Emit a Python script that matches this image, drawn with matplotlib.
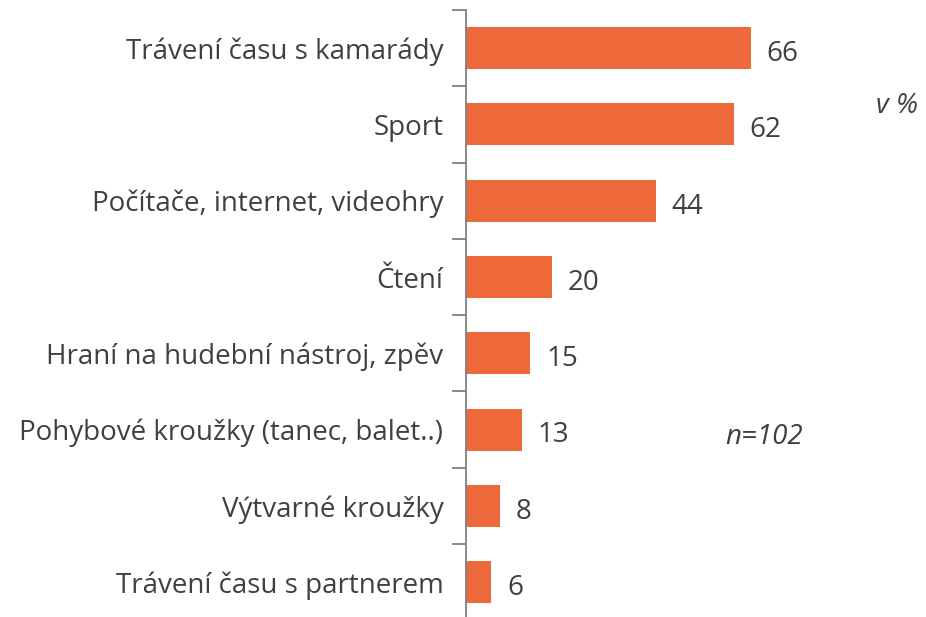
import matplotlib.pyplot as plt
import numpy as np

plt.rcParams['font.family'] = ['Open Sans', 'DejaVu Sans']

# data
kategorie = ['Trávení času s kamarády', 'Sport', 'Počítače, internet, videohry',
             'Čtení', 'Hraní na hudební nástroj, zpěv',
             'Pohybové kroužky (tanec, balet..)', 'Výtvarné kroužky',
             'Trávení času s partnerem']
hodnoty = [66, 62, 44, 20, 15, 13, 8, 6]

barva = '#EE6A3A'
text_barva = '#404040'
osa_barva = '#808080'

W, H = 926, 617
fig = plt.figure(figsize=(W / 100, H / 100), dpi=100)
# osa zacina na x=465.5 px, kategorie po 76.3 px od y=10 px
top_px, krok = 10, 76.3
bottom_px = top_px + krok * len(kategorie)
ax = fig.add_axes([465.5 / W, (H - bottom_px) / H, (W - 465.5) / W, (bottom_px - top_px) / H])

y = np.arange(len(kategorie))
ax.barh(y, hodnoty, height=0.55, color=barva)
ax.set_ylim(len(kategorie) - 0.5, -0.5)
ax.set_xlim(0, (W - 465.5) / 4.33)

for yi, v in zip(y, hodnoty):
    ax.text(v + 3.6, yi + 0.03, str(v), va='center_baseline', ha='left', fontsize=20,
            color=text_barva)

ax.set_yticks(y)
ax.set_yticklabels(kategorie, fontsize=20, color=text_barva)
for lab in ax.get_yticklabels():
    lab.set_verticalalignment('center_baseline')
ax.tick_params(axis='y', which='major', length=0, pad=16)
ax.set_yticks(np.arange(-0.5, len(kategorie) - 1, 1), minor=True)
ax.tick_params(axis='y', which='minor', length=10, width=1.3, color=osa_barva)
ax.set_xticks([])

for s in ['top', 'right', 'bottom']:
    ax.spines[s].set_visible(False)
ax.spines['left'].set_color(osa_barva)
ax.spines['left'].set_linewidth(1.3)

fig.text(918 / W, 1 - 106 / H, 'v %', ha='right', va='center', fontsize=20,
         style='italic', color=text_barva)
fig.text(764 / W, 1 - 437 / H, 'n=102', ha='center', va='center', fontsize=20,
         style='italic', color=text_barva)

fig.savefig('out.png', dpi=100)
